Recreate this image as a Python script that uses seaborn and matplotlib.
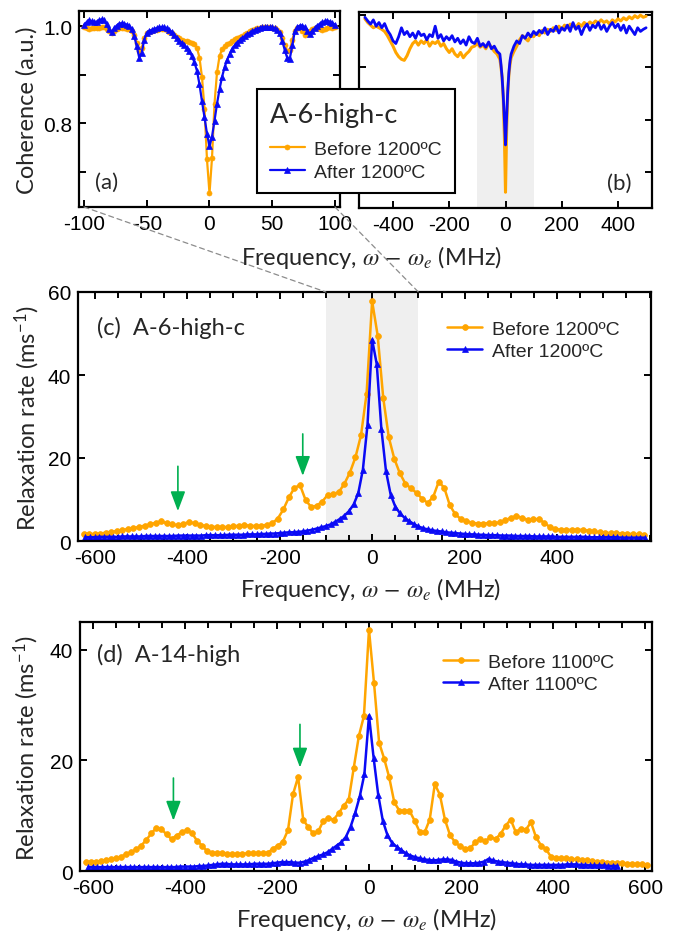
import numpy as np
import matplotlib
matplotlib.use("Agg")
import matplotlib.pyplot as plt
import seaborn as sns
from matplotlib.patches import ConnectionPatch
from matplotlib.ticker import MultipleLocator
from matplotlib.font_manager import FontProperties

# ---------------- (a) coherence, narrow sweep (MHz) ----------------
freq_a = np.arange(-100, 101, 2)
coh_a_before = [
    0.998, 0.995, 0.994, 0.995, 0.996, 0.995, 0.996, 0.998, 0.997, 0.994,
    0.990, 0.986, 0.990, 0.993, 0.995, 0.996, 0.995, 0.994, 0.993, 0.990,
    0.982, 0.965, 0.948, 0.955, 0.975, 0.985, 0.988, 0.990, 0.991, 0.992,
    0.993, 0.994, 0.993, 0.991, 0.988, 0.985, 0.982, 0.978, 0.975, 0.972,
    0.970, 0.969, 0.968, 0.966, 0.962, 0.955, 0.935, 0.895, 0.830, 0.725,
    0.655, 0.728, 0.840, 0.905, 0.938, 0.952, 0.958, 0.962, 0.966, 0.970,
    0.973, 0.975, 0.978, 0.980, 0.983, 0.986, 0.989, 0.991, 0.993, 0.995,
    0.996, 0.997, 0.998, 0.998, 0.997, 0.996, 0.995, 0.992, 0.987, 0.975,
    0.960, 0.948, 0.950, 0.972, 0.990, 0.996, 0.998, 0.990, 0.982, 0.988,
    0.990, 0.993, 0.996, 0.995, 0.993, 0.992, 0.993, 0.995, 0.997, 0.996,
    0.997,
]
coh_a_after = [
    1.002, 1.008, 1.012, 1.010, 1.008, 1.009, 1.012, 1.014, 1.012, 1.004,
    0.993, 0.988, 0.995, 1.001, 1.005, 1.006, 1.005, 1.003, 1.000, 0.994,
    0.980, 0.958, 0.935, 0.945, 0.972, 0.986, 0.990, 0.992, 0.994, 0.996,
    0.997, 0.998, 0.997, 0.996, 0.992, 0.987, 0.982, 0.976, 0.970, 0.965,
    0.960, 0.955, 0.948, 0.938, 0.925, 0.908, 0.880, 0.845, 0.812, 0.778,
    0.752, 0.772, 0.805, 0.840, 0.870, 0.895, 0.915, 0.930, 0.942, 0.952,
    0.960, 0.966, 0.971, 0.975, 0.979, 0.983, 0.986, 0.989, 0.992, 0.994,
    0.996, 0.997, 0.998, 0.998, 0.997, 0.997, 0.995, 0.992, 0.985, 0.970,
    0.950, 0.934, 0.933, 0.960, 0.990, 0.998, 1.001, 1.001, 0.998, 0.990,
    0.984, 0.990, 0.996, 1.001, 1.005, 1.008, 1.010, 1.011, 1.009, 1.006,
    1.003,
]

# ---------------- (b) coherence, wide sweep (MHz) ----------------
freq_b = np.concatenate([np.arange(-500, -29, 10), np.arange(-20, 21, 4),
                         np.arange(30, 501, 10)])
coh_b_before = [
    0.992, 0.985, 0.980, 0.975, 0.978, 0.975, 0.972, 0.968, 0.960, 0.950,
    0.940, 0.928, 0.920, 0.915, 0.913, 0.922, 0.935, 0.945, 0.950, 0.942,
    0.950, 0.945, 0.952, 0.940, 0.948, 0.945, 0.950, 0.940, 0.945, 0.935,
    0.928, 0.935, 0.925, 0.920, 0.928, 0.918, 0.925, 0.930, 0.938, 0.940,
    0.945, 0.938, 0.942, 0.935, 0.945, 0.938, 0.930, 0.925,
    0.915, 0.900, 0.880, 0.840, 0.770, 0.662, 0.780, 0.850, 0.885, 0.905, 0.918,
    0.930, 0.940, 0.952, 0.960, 0.955, 0.950, 0.960, 0.958, 0.965, 0.960,
    0.970, 0.965, 0.972, 0.968, 0.975, 0.970, 0.978, 0.972, 0.980, 0.975,
    0.982, 0.978, 0.975, 0.983, 0.978, 0.985, 0.980, 0.986, 0.982, 0.988,
    0.984, 0.990, 0.985, 0.988, 0.982, 0.990, 0.986, 0.992, 0.988, 0.994,
    0.990, 0.996, 0.992, 0.998, 0.994, 0.999, 0.995, 0.997,
]
coh_b_after = [
    0.995, 0.988, 0.982, 0.990, 0.978, 0.985, 0.975, 0.983, 0.970, 0.962,
    0.950, 0.945, 0.958, 0.975, 0.962, 0.968, 0.958, 0.965, 0.955, 0.968,
    0.960, 0.963, 0.952, 0.962, 0.958, 0.978, 0.955, 0.962, 0.950, 0.958,
    0.952, 0.960, 0.948, 0.955, 0.945, 0.952, 0.942, 0.958, 0.948, 0.945,
    0.955, 0.940, 0.945, 0.938, 0.948, 0.935, 0.940, 0.930,
    0.925, 0.905, 0.880, 0.845, 0.800, 0.752, 0.805, 0.855, 0.890, 0.912, 0.925,
    0.940, 0.950, 0.945, 0.960, 0.955, 0.965, 0.958, 0.968, 0.962, 0.970,
    0.965, 0.975, 0.962, 0.972, 0.968, 0.978, 0.965, 0.975, 0.970, 0.980,
    0.968, 0.985, 0.972, 0.978, 0.962, 0.975, 0.982, 0.970, 0.980, 0.975,
    0.985, 0.972, 0.980, 0.968, 0.978, 0.985, 0.975, 0.982, 0.970, 0.980,
    0.965, 0.978, 0.970, 0.962, 0.975, 0.968, 0.972, 0.975,
]

# ---------------- (c) relaxation rate, A-6-high-c (ms^-1) ----------------
freq_c_before = np.arange(-624, 589, 12)
rate_c_before = [
    1.8, 1.7, 1.7, 1.8, 2.0, 2.2, 2.4, 2.6, 2.9, 3.1,
    3.4, 3.7, 4.0, 4.4, 4.7, 4.3, 4.0, 3.8, 4.2, 4.5,
    4.3, 3.9, 3.6, 3.4, 3.4, 3.3, 3.4, 3.5, 3.7, 3.8,
    3.7, 3.6, 3.7, 3.9, 4.3, 5.4, 7.6, 10.5, 12.8, 13.5,
    9.9, 8.2, 8.5, 9.5, 11.1, 11.3, 11.8, 13.8, 16.5, 20.2,
    25.5, 35.5, 57.8, 49.5, 34.5, 25.0, 19.8, 16.3, 13.8, 12.7,
    11.6, 10.2, 9.2, 10.6, 14.3, 12.8, 8.6, 6.4, 5.3, 4.8,
    4.4, 4.2, 4.2, 4.3, 4.3, 4.5, 5.0, 5.6, 6.0, 5.6,
    5.1, 5.2, 5.3, 4.4, 3.4, 2.9, 2.7, 2.7, 2.7, 2.7,
    2.7, 2.5, 2.3, 2.1, 2.0, 1.9, 1.9, 1.8, 1.7, 1.7,
    1.6, 1.5,
]
freq_c_after = np.arange(-620, 591, 10)
rate_c_after = [
    0.9, 0.9, 0.9, 1.0, 1.0, 1.0, 1.0, 1.0, 1.1, 1.1,
    1.1, 1.1, 1.1, 1.2, 1.2, 1.2, 1.2, 1.2, 1.2, 1.2,
    1.3, 1.3, 1.3, 1.3, 1.3, 1.3, 1.4, 1.4, 1.4, 1.4,
    1.4, 1.5, 1.5, 1.5, 1.5, 1.6, 1.6, 1.6, 1.7, 1.7,
    1.8, 1.8, 1.9, 2.0, 2.1, 2.1, 2.2, 2.3, 2.5, 2.7,
    3.0, 3.3, 3.6, 4.0, 4.6, 5.3, 6.1, 7.2, 8.8, 11.5,
    17.2, 28.0, 48.5, 42.6, 27.0, 16.8, 11.2, 8.3, 6.7, 5.6,
    4.8, 4.1, 3.5, 3.1, 2.8, 2.6, 2.4, 2.3, 2.1, 2.0,
    1.9, 1.8, 1.7, 1.6, 1.6, 1.5, 1.5, 1.4, 1.4, 1.4,
    1.3, 1.3, 1.3, 1.2, 1.2, 1.2, 1.2, 1.1, 1.1, 1.1,
    1.1, 1.1, 1.0, 1.0, 1.0, 1.0, 1.0, 1.0, 1.0, 0.9,
    0.9, 0.9, 0.9, 0.9, 0.9, 0.9, 0.8, 0.8, 0.8, 0.8,
    0.8, 0.8,
]

# ---------------- (d) relaxation rate, A-14-high (ms^-1) ----------------
freq_d_before = np.arange(-616, 606, 11)
rate_d_before = [
    1.6, 1.7, 1.7, 1.8, 2.0, 2.1, 2.3, 2.6, 3.0, 3.4,
    3.9, 4.6, 5.6, 6.8, 7.8, 7.6, 6.6, 5.8, 6.4, 7.0,
    7.4, 6.9, 5.5, 4.6, 3.6, 3.3, 3.2, 3.3, 3.1, 3.0,
    3.1, 3.1, 3.2, 3.2, 3.2, 3.2, 3.3, 4.0, 4.6, 5.3,
    7.4, 13.9, 17.0, 9.3, 7.9, 6.8, 7.2, 9.1, 9.5, 9.3,
    10.4, 11.8, 12.9, 18.7, 24.4, 28.0, 43.6, 33.9, 23.2, 20.3,
    16.9, 12.4, 10.9, 10.9, 10.9, 9.1, 7.1, 7.0, 9.3, 15.7,
    13.8, 9.3, 6.5, 5.2, 4.5, 4.0, 4.1, 5.2, 5.7, 5.4,
    6.1, 5.8, 6.7, 8.2, 9.3, 7.0, 7.6, 7.5, 8.8, 6.1,
    4.6, 3.9, 2.5, 2.3, 2.3, 2.3, 2.2, 2.1, 2.0, 1.9,
    1.8, 1.6, 1.6, 1.5, 1.5, 1.4, 1.4, 1.3, 1.3, 1.2,
    1.2, 1.1,
]
freq_d_after = np.arange(-610, 541, 10)
rate_d_after = [
    0.7, 0.7, 0.7, 0.7, 0.7, 0.7, 0.7, 0.7, 0.7, 0.7,
    0.7, 0.7, 0.7, 0.7, 0.7, 0.7, 0.7, 0.7, 0.7, 0.7,
    0.8, 0.8, 0.8, 0.8, 0.9, 0.9, 1.0, 1.1, 1.2, 1.3,
    1.3, 1.2, 1.2, 1.2, 1.2, 1.2, 1.3, 1.3, 1.3, 1.3,
    1.4, 1.5, 1.6, 1.6, 1.6, 1.5, 1.5, 1.7, 2.0, 2.4,
    2.7, 3.0, 3.4, 4.0, 4.6, 5.2, 6.2, 8.0, 10.5, 13.5,
    17.5, 28.1, 20.5, 13.8, 9.1, 6.5, 5.1, 4.4, 3.8, 3.2,
    2.8, 2.5, 2.3, 2.1, 2.0, 1.9, 2.0, 2.1, 2.1, 2.0,
    1.7, 1.5, 1.4, 1.4, 1.4, 1.5, 1.7, 2.2, 1.9, 1.7,
    1.6, 1.5, 1.4, 1.3, 1.2, 1.2, 1.1, 1.1, 1.1, 1.1,
    1.1, 1.1, 1.1, 1.1, 1.2, 1.2, 1.2, 1.1, 1.1, 1.0,
    1.0, 1.0, 1.0, 0.9, 0.9, 0.9,
]

labels_1200 = ["Before 1200\u00baC", "After 1200\u00baC"]
labels_1100 = ["Before 1100\u00baC", "After 1100\u00baC"]
sample_c = "A-6-high-c"
sample_d = "A-14-high"
arrows_c = [(-420, 18.0, 7.2), (-150, 25.8, 15.7)]
arrows_d = [(-425, 16.8, 9.1), (-150, 26.5, 18.7)]

# ---------------- styling ----------------
sns.set_style("ticks")
plt.rcParams["font.family"] = ["Liberation Sans", "DejaVu Sans"]
plt.rcParams["mathtext.fontset"] = "stix"
plt.rcParams["axes.unicode_minus"] = False

ORANGE = "#ffa500"
BLUE = "#0a0af5"
GREEN = "#00b050"
SHADE = "#efefef"
LABEL_FAMILY = ["Lato", "DejaVu Sans"]
TICK_FS = 15
LABEL_FS = 17
LEG_FS = 14

W, H = 675, 937
fig = plt.figure(figsize=(W / 100, H / 100), dpi=100)


def box(left, top, right, bottom):
    return [left / W, 1 - bottom / H, (right - left) / W, (bottom - top) / H]


ax_a = fig.add_axes(box(79, 12, 340, 208))
ax_b = fig.add_axes(box(359, 13, 652, 209))
ax_c = fig.add_axes(box(78, 293, 651, 542))
ax_d = fig.add_axes(box(80, 623, 652, 872))


def style(ax):
    for s in ax.spines.values():
        s.set_linewidth(1.6)
        s.set_color("black")
    ax.tick_params(which="both", direction="in", top=True, right=True,
                   width=1.4, labelsize=TICK_FS, colors="black", pad=5)
    ax.tick_params(which="major", length=5)
    ax.tick_params(which="minor", length=4)


def trace(ax, x, y, color, marker, ms, lw, label):
    sns.lineplot(x=np.asarray(x, float), y=np.asarray(y, float), ax=ax,
                 color=color, marker=marker, markersize=ms,
                 markeredgecolor=color, markeredgewidth=0.5,
                 linewidth=lw, label=label, legend=False, errorbar=None)


# (a)
trace(ax_a, freq_a, coh_a_before, ORANGE, "o", 3.6, 1.6, labels_1200[0])
trace(ax_a, freq_a, coh_a_after, BLUE, "^", 3.8, 1.6, labels_1200[1])
ax_a.set_xlim(-104, 104)
ax_a.set_ylim(0.627, 1.031)
ax_a.set_xticks([-100, -50, 0, 50, 100])
ax_a.set_yticks([0.8, 1.0])
ax_a.set_yticks([0.7, 0.9], minor=True)
style(ax_a)
ax_a.tick_params(which="minor", length=5)
ax_a.set_ylabel("Coherence (a.u.)", fontfamily=LABEL_FAMILY, fontsize=LABEL_FS)
ax_a.yaxis.set_label_coords((38 - 79) / 261, 0.5)
ax_a.text(0.06, 0.13, "(a)", transform=ax_a.transAxes, fontsize=16,
          fontfamily=LABEL_FAMILY, ha="left", va="center")

# (b)
ax_b.axvspan(-100, 100, color=SHADE, zorder=0, lw=0)
trace(ax_b, freq_b, coh_b_before, ORANGE, None, 0, 2.2, labels_1200[0])
trace(ax_b, freq_b, coh_b_after, BLUE, None, 0, 2.0, labels_1200[1])
ax_b.set_xlim(-521, 521)
ax_b.set_ylim(0.632, 1.005)
ax_b.set_xticks([-400, -200, 0, 200, 400])
ax_b.set_yticks([0.7, 0.8, 0.9, 1.0])
style(ax_b)
ax_b.tick_params(labelleft=False)
ax_b.text(0.93, 0.13, "(b)", transform=ax_b.transAxes, fontsize=16,
          fontfamily=LABEL_FAMILY, ha="right", va="center")

# (c)
ax_c.axvspan(-100, 100, color=SHADE, zorder=0, lw=0)
trace(ax_c, freq_c_before, rate_c_before, ORANGE, "o", 4.2, 1.8, labels_1200[0])
trace(ax_c, freq_c_after, rate_c_after, BLUE, "^", 4.0, 1.8, labels_1200[1])
ax_c.set_xlim(-636, 603)
ax_c.set_ylim(0, 60)
ax_c.set_xticks([-600, -400, -200, 0, 200, 400])
ax_c.xaxis.set_minor_locator(MultipleLocator(50))
ax_c.set_yticks([0, 20, 40, 60])
style(ax_c)
ax_c.set_ylabel("Relaxation rate (ms$^{\\mathregular{-1}}$)",
                fontfamily=LABEL_FAMILY, fontsize=LABEL_FS)
ax_c.yaxis.set_label_coords((42 - 78) / 573, 0.5)
ax_c.text(0.033, 0.86, "(c)  " + sample_c, transform=ax_c.transAxes,
          fontsize=17, fontfamily=LABEL_FAMILY, ha="left", va="center")

# (d)
trace(ax_d, freq_d_before, rate_d_before, ORANGE, "o", 4.2, 1.8, labels_1100[0])
trace(ax_d, freq_d_after, rate_d_after, BLUE, "^", 4.0, 1.8, labels_1100[1])
ax_d.set_xlim(-628, 615)
ax_d.set_ylim(0, 45)
ax_d.set_xticks([-600, -400, -200, 0, 200, 400, 600])
ax_d.xaxis.set_minor_locator(MultipleLocator(50))
ax_d.set_yticks([0, 20, 40])
style(ax_d)
ax_d.set_ylabel("Relaxation rate (ms$^{\\mathregular{-1}}$)",
                fontfamily=LABEL_FAMILY, fontsize=LABEL_FS)
ax_d.yaxis.set_label_coords((41 - 80) / 572, 0.5)
ax_d.text(0.03, 0.87, "(d)  " + sample_d, transform=ax_d.transAxes,
          fontsize=17, fontfamily=LABEL_FAMILY, ha="left", va="center")

# green arrows marking the satellite features
for ax, arrows in ((ax_c, arrows_c), (ax_d, arrows_d)):
    for x0, y_from, y_to in arrows:
        ax.annotate("", xy=(x0, y_to), xytext=(x0, y_from),
                    arrowprops=dict(arrowstyle="-|>,head_length=0.8,head_width=0.3",
                                    color=GREEN, lw=1.2, mutation_scale=15,
                                    shrinkA=0, shrinkB=0))

# shared frequency labels
xlabel = "Frequency, $\\omega\\,-\\,\\omega_e$ (MHz)"
for xc, yb in ((372, 265), (371, 597), (367, 927)):
    fig.text(xc / W, 1 - yb / H, xlabel, ha="center", va="baseline",
             fontsize=LABEL_FS, fontfamily=LABEL_FAMILY)

# zoom guides from (a) down to the shaded band of (c)
for xv in (-100, 100):
    con = ConnectionPatch(xyA=(xv, 0.627), coordsA=ax_a.transData,
                          xyB=(xv, 60), coordsB=ax_c.transData,
                          linestyle=(0, (4, 3)), color="#8c8c8c", lw=0.9)
    fig.add_artist(con)

# legends
leg_prop = FontProperties(family=["Liberation Sans", "DejaVu Sans"], size=LEG_FS)
top_leg = fig.legend(handles=ax_a.lines[:2], labels=labels_1200, title=sample_c,
                     loc="upper left", bbox_to_anchor=(257 / W, 1 - 90 / H),
                     borderaxespad=0, frameon=True, fancybox=False,
                     edgecolor="black", framealpha=1, prop=leg_prop,
                     title_fontproperties=FontProperties(family=LABEL_FAMILY, size=19.5),
                     alignment="left", handlelength=1.8, handletextpad=0.5,
                     borderpad=0.65, labelspacing=0.26)
top_leg.get_frame().set_linewidth(1.5)
top_leg._legend_box.sep = 10

ax_c.legend(handles=ax_c.lines[:2], labels=labels_1200, loc="upper left",
            bbox_to_anchor=(447 / W, 1 - 321 / H), bbox_transform=fig.transFigure,
            borderaxespad=0, borderpad=0, frameon=False, prop=leg_prop,
            handlelength=1.8, handletextpad=0.5, labelspacing=0.26)
ax_d.legend(handles=ax_d.lines[:2], labels=labels_1100, loc="upper left",
            bbox_to_anchor=(443 / W, 1 - 654 / H), bbox_transform=fig.transFigure,
            borderaxespad=0, borderpad=0, frameon=False, prop=leg_prop,
            handlelength=1.8, handletextpad=0.5, labelspacing=0.26)

fig.savefig("out.png", dpi=100)
